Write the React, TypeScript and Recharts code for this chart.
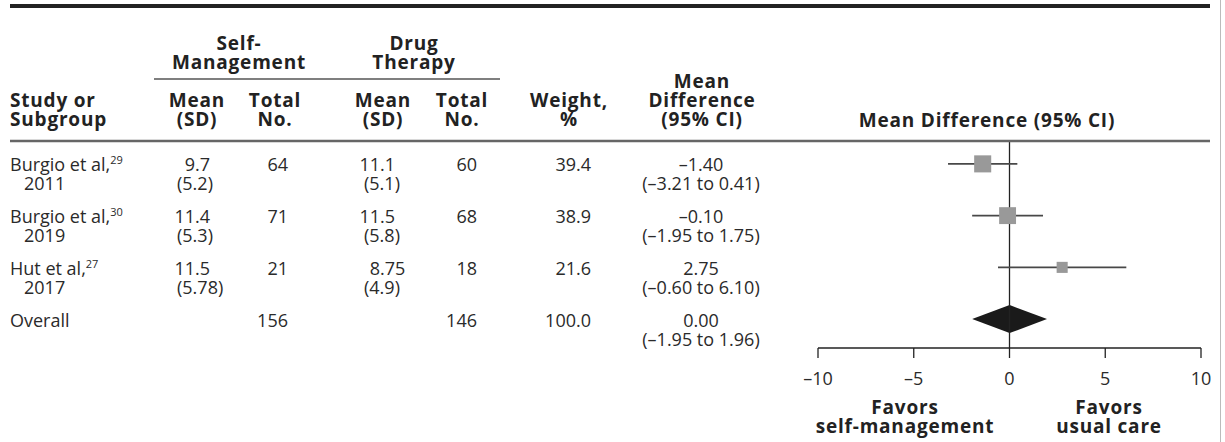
import { ComposedChart, XAxis, YAxis, Scatter, ReferenceLine, ReferenceArea } from 'recharts'

const W = 1225
const H = 442
const FONT = '"Open Sans", "Noto Sans", sans-serif'

// study rows
const studyNames = ['Burgio et al,', 'Burgio et al,', 'Hut et al,']
const studyRefs = ['29', '30', '27']
const studyYears = ['2011', '2019', '2017']
const selfMean = ['9.7', '11.4', '11.5']
const selfSD = ['5.2', '5.3', '5.78']
const selfTotal = [64, 71, 21]
const drugMean = ['11.1', '11.5', '8.75']
const drugSD = ['5.1', '5.8', '4.9']
const drugTotal = [60, 68, 18]
const weights = [39.4, 38.9, 21.6]
const meanDiff = [-1.4, -0.1, 2.75]
const ciLow = [-3.21, -1.95, -0.6]
const ciHigh = [0.41, 1.75, 6.1]

// overall row
const overallSelfTotal = 156
const overallDrugTotal = 146
const overallWeight = 100.0
const overallDiff = 0.0
const overallLow = -1.95
const overallHigh = 1.96

const xTicks = [-10, -5, 0, 5, 10]

const dash = (v: number, d: number) => (v < 0 ? '\u2013' : '') + Math.abs(v).toFixed(d)
const ciText = (lo: number, hi: number) => `(${dash(lo, 2)} to ${dash(hi, 2)})`

const squares = meanDiff.map((m, i) => ({ x: m, y: i + 1, w: weights[i] }))

const Square = (props: any) => {
    const { cx, cy, payload } = props
    const s = 1.21 * Math.pow(payload.w, 0.72)
    return <rect x={cx - s / 2} y={cy - s / 2} width={s} height={s} fill="#999" />
}

const Diamond = (props: any) => {
    const { x, y, width, height } = props
    const cy = y + height / 2
    const h = 14
    const pts = `${x},${cy} ${x + width / 2},${cy - h} ${x + width},${cy} ${x + width / 2},${cy + h}`
    return <polygon points={pts} fill="#1a1a1a" />
}

const LH = 19

// two-line cell, one text element
const Two = ({ x, y, a, b, anchor = 'middle' }: { x: number; y: number; a: string; b: string; anchor?: string }) => (
    <text x={x} y={y} textAnchor={anchor}>
        {a}
        <tspan x={x} dy={LH}>{b}</tspan>
    </text>
)

// mean over (SD): first line decimal aligned at dx, second line starts at sx
const MeanSD = ({ v, sd, dx, sx, y }: { v: string; sd: string; dx: number; sx: number; y: number }) => {
    const [a, b] = v.split('.')
    return (
        <text y={y}>
            <tspan x={dx} textAnchor="end">{a}</tspan>
            <tspan x={dx}>.{b}</tspan>
            <tspan x={sx} dy={LH}>({sd})</tspan>
        </text>
    )
}

function Table() {
    const hb = { fontWeight: 700, fontSize: 19, letterSpacing: 0.8 }
    return (
        <svg width={W} height={H} style={{ position: 'absolute', left: 0, top: 0, pointerEvents: 'none' }}
            fontFamily={FONT} fill="#222">
            <rect x={10} y={4} width={1200} height={4} fill="#222" />
            <line x1={1220.5} y1={0} x2={1220.5} y2={H} stroke="#bbb" strokeWidth={1} />
            <line x1={154} y1={79} x2={500} y2={79} stroke="#555" strokeWidth={1.5} />
            <line x1={10} y1={141} x2={1210} y2={141} stroke="#666" strokeWidth={2.5} />

            <g style={hb}>
                <Two x={239} y={50} a="Self-" b="Management" />
                <Two x={414} y={50} a="Drug" b="Therapy" />
                <Two x={10} y={107} a="Study or" b="Subgroup" anchor="start" />
                <Two x={197} y={107} a="Mean" b="(SD)" />
                <Two x={275} y={107} a="Total" b="No." />
                <Two x={383} y={107} a="Mean" b="(SD)" />
                <Two x={462} y={107} a="Total" b="No." />
                <Two x={569} y={107} a="Weight," b="%" />
                <text x={702} y={88} textAnchor="middle">
                    Mean
                    <tspan x={702} dy={LH}>Difference</tspan>
                    <tspan x={702} dy={LH}>(95% CI)</tspan>
                </text>
                <text x={987} y={127} textAnchor="middle">Mean Difference (95% CI)</text>
                <Two x={905} y={414} a="Favors" b="self-management" />
                <Two x={1109} y={414} a="Favors" b="usual care" />
            </g>

            <g fontSize={18} fill="#2a2a2a">
                {studyNames.map((n, i) => {
                    const y = 171 + 52 * i
                    return (
                        <g key={i}>
                            <text x={10} y={y}>
                                {n}
                                <tspan fontSize={11} dy={-7}>{studyRefs[i]}</tspan>
                                <tspan x={24} dy={LH + 7}>{studyYears[i]}</tspan>
                            </text>
                            <MeanSD v={selfMean[i]} sd={selfSD[i]} dx={195} sx={177} y={y} />
                            <text x={288} y={y} textAnchor="end">{selfTotal[i]}</text>
                            <MeanSD v={drugMean[i]} sd={drugSD[i]} dx={380} sx={364} y={y} />
                            <text x={477} y={y} textAnchor="end">{drugTotal[i]}</text>
                            <text x={591} y={y} textAnchor="end">{weights[i].toFixed(1)}</text>
                            <Two x={701} y={y} a={dash(meanDiff[i], 2)} b={ciText(ciLow[i], ciHigh[i])} />
                        </g>
                    )
                })}
                <text x={10} y={327}>Overall</text>
                <text x={288} y={327} textAnchor="end">{overallSelfTotal}</text>
                <text x={477} y={327} textAnchor="end">{overallDrugTotal}</text>
                <text x={591} y={327} textAnchor="end">{overallWeight.toFixed(1)}</text>
                <Two x={701} y={327} a={dash(overallDiff, 2)} b={ciText(overallLow, overallHigh)} />
            </g>
        </svg>
    )
}

export default function App() {
    return (
        <div style={{ position: 'absolute', left: 0, top: 0, width: W, height: H, background: '#fff' }}>
            <ComposedChart width={W} height={H} margin={{ top: 141, right: 24, bottom: 54, left: 818 }}>
                <XAxis
                    type="number"
                    dataKey="x"
                    domain={[-10, 10]}
                    ticks={xTicks}
                    interval={0}
                    allowDataOverflow
                    height={40}
                    tickSize={10}
                    tickMargin={14}
                    axisLine={{ stroke: '#222', strokeWidth: 1.3 }}
                    tickLine={{ stroke: '#222', strokeWidth: 1.3 }}
                    tick={{ fill: '#2a2a2a', fontSize: 18, fontFamily: FONT }}
                    tickFormatter={(v: number) => dash(v, 0)}
                />
                <YAxis type="number" dataKey="y" domain={[0.558, 4.558]} reversed hide />
                <ReferenceLine x={0} stroke="#222" strokeWidth={1.3} />
                {meanDiff.map((_, i) => (
                    <ReferenceLine
                        key={i}
                        segment={[{ x: ciLow[i], y: i + 1 }, { x: ciHigh[i], y: i + 1 }]}
                        stroke="#484848"
                        strokeWidth={1.7}
                    />
                ))}
                <Scatter data={squares} dataKey="y" shape={Square} isAnimationActive={false} />
                <ReferenceArea x1={overallLow} x2={overallHigh} y1={3.9} y2={4.1} shape={Diamond} />
            </ComposedChart>
            <Table />
        </div>
    )
}
